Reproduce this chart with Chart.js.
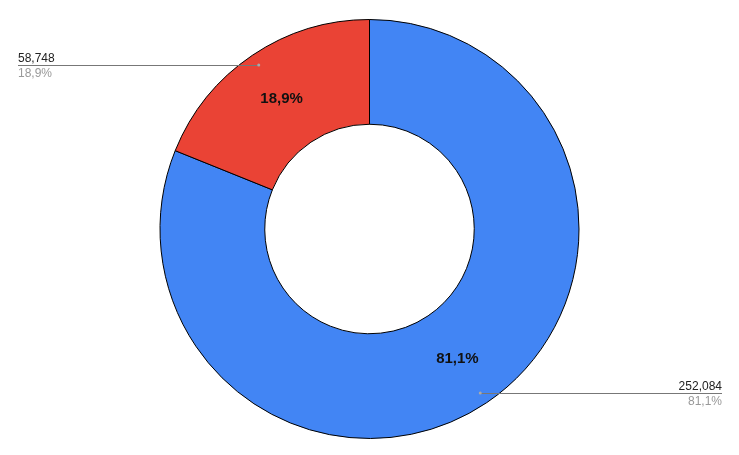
<!DOCTYPE html>
<html><head><meta charset="utf-8">
<script src="https://cdn.jsdelivr.net/npm/chart.js@4"></script>
<style>html,body{margin:0;padding:0;background:#fff}#wrap{width:739px;height:455px}</style>
</head><body><div id="wrap"><canvas id="c"></canvas></div>
<script>
const categories = ['A', 'B'];
const values = [252084, 58748];
const percentLabels = ['81,1%', '18,9%'];
const valueLabels = ['252,084', '58,748'];
const colors = ['#4285F4', '#EA4335'];

const labelPlugin = {
  id: 'labelPlugin',
  afterDatasetsDraw(chart) {
    const ctx = chart.ctx;
    const meta = chart.getDatasetMeta(0);
    meta.data.forEach((arc, i) => {
      const p = arc.getProps(['x','y','startAngle','endAngle','innerRadius','outerRadius'], true);
      const mid = (p.startAngle + p.endAngle) / 2;
      const cos = Math.cos(mid), sin = Math.sin(mid);
      const rm = (p.innerRadius + p.outerRadius) / 2;
      ctx.save();
      ctx.font = 'bold 15px "Liberation Sans", Arial, sans-serif';
      ctx.fillStyle = '#111';
      ctx.textAlign = 'center';
      ctx.textBaseline = 'middle';
      ctx.fillText(percentLabels[i], p.x + cos * rm, p.y + sin * rm);
      const rl = p.outerRadius * 0.945;
      const lx = p.x + cos * rl, ly = p.y + sin * rl;
      const left = cos < 0;
      const endX = left ? chart.chartArea.left + 18 : chart.chartArea.right - 17;
      ctx.strokeStyle = '#777';
      ctx.lineWidth = 1;
      ctx.beginPath();
      ctx.moveTo(lx, Math.round(ly) + 0.5);
      ctx.lineTo(endX, Math.round(ly) + 0.5);
      ctx.stroke();
      ctx.fillStyle = '#aaa';
      ctx.beginPath();
      ctx.arc(lx, ly, 1.5, 0, Math.PI * 2);
      ctx.fill();
      ctx.font = '12px "Liberation Sans", Arial, sans-serif';
      ctx.textAlign = left ? 'left' : 'right';
      ctx.textBaseline = 'alphabetic';
      ctx.fillStyle = '#222';
      ctx.fillText(valueLabels[i], endX, Math.round(ly) - 3);
      ctx.fillStyle = '#999';
      ctx.fillText(percentLabels[i], endX, Math.round(ly) + 12);
      ctx.restore();
    });
  }
};

new Chart(document.getElementById('c'), {
  type: 'doughnut',
  data: {
    labels: categories,
    datasets: [{
      data: values,
      backgroundColor: colors,
      borderColor: '#000',
      borderWidth: 1,
      hoverOffset: 0
    }]
  },
  options: {
    responsive: true,
    maintainAspectRatio: false,
    animation: false,
    cutout: '50%',
    layout: { padding: { top: 19, bottom: 16, left: 0, right: 0 } },
    plugins: { legend: { display: false }, tooltip: { enabled: false } }
  },
  plugins: [labelPlugin]
});
</script>
</body></html>
